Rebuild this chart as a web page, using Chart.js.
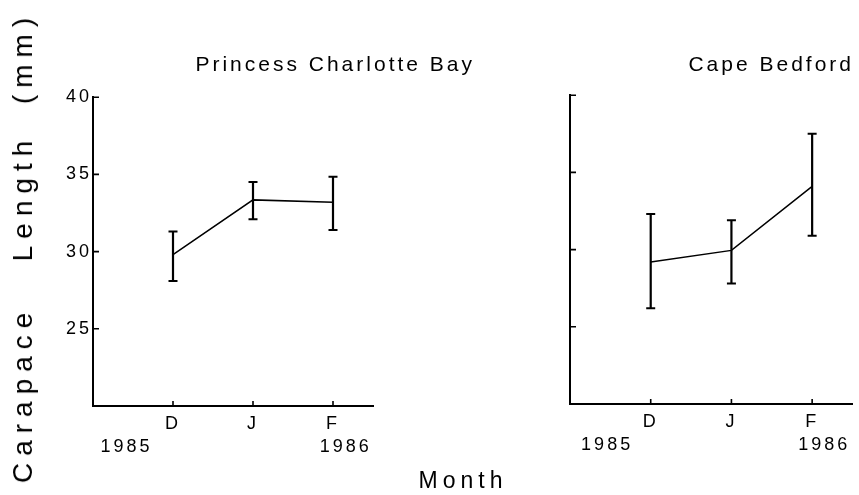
<!DOCTYPE html>
<html><head><meta charset="utf-8">
<script src="https://cdn.jsdelivr.net/npm/chart.js@4.4.1/dist/chart.umd.min.js"></script>
<style>
html,body{margin:0;padding:0;background:#fff;}
body{width:859px;height:495px;position:relative;overflow:hidden;font-family:"Liberation Sans",Arial,sans-serif;color:#000;}
#cl{position:absolute;left:0;top:0;}
#cr{position:absolute;left:480px;top:0;}
#ytitle{position:absolute;left:23px;top:247px;transform:translate(-50%,-50%) rotate(-90deg);white-space:pre;font-size:28px;letter-spacing:7px;line-height:1;}
#xtitle{position:absolute;left:463px;top:480px;transform:translate(-50%,-50%);white-space:pre;font-size:23px;letter-spacing:5px;line-height:1;}
</style></head>
<body>
<canvas id="cl" width="475" height="495"></canvas>
<canvas id="cr" width="379" height="495"></canvas>
<div id="ytitle">Carapace   Length  (mm)</div>
<div id="xtitle">Month</div>
<script>
// ---- data ----
const months = ['D', 'J', 'F'];
const monthPos = [1, 2, 3];
const yearLabels = ['1985', '1986'];
const yTicks = [25, 30, 35, 40];
const pcbMean = [29.8, 33.35, 33.2];
const pcbLow  = [28.1, 32.1, 31.4];
const pcbHigh = [31.3, 34.5, 34.85];
const cbMean  = [29.2, 29.95, 34.1];
const cbLow   = [26.2, 27.8, 30.9];
const cbHigh  = [32.3, 31.9, 37.5];
const titles = ['Princess Charlotte Bay', 'Cape Bedford'];

// ---- layout constants ----
const yearPosLeft = [0.42, 3.16];
const yearPosRight = [0.46, 3.15];
const FONT = '"Liberation Sans", Arial, sans-serif';
const INK = '#000';

function buildDatasets(mean, low, high) {
  const ds = [{
    data: monthPos.map((x, i) => ({x, y: mean[i]})),
    showLine: true, borderColor: INK, borderWidth: 1.5, pointRadius: 0
  }];
  monthPos.forEach((x, i) => {
    ds.push({
      data: [{x, y: low[i]}, {x, y: high[i]}],
      showLine: true, borderColor: INK, borderWidth: 2.2, pointRadius: 0
    });
  });
  ds.push({
    data: monthPos.flatMap((x, i) => [{x, y: low[i]}, {x, y: high[i]}]),
    showLine: false, pointStyle: 'line', pointRadius: 4.5,
    borderColor: INK, backgroundColor: INK, borderWidth: 2
  });
  return ds;
}

const inwardTicks = {
  id: 'inwardTicks',
  afterDatasetsDraw(chart) {
    const {ctx, chartArea: a} = chart;
    const xs = chart.scales.x, ys = chart.scales.y;
    ctx.save();
    ctx.strokeStyle = INK; ctx.lineWidth = 1.6; ctx.beginPath();
    ys.ticks.forEach(t => { const py = ys.getPixelForValue(t.value); ctx.moveTo(a.left, py); ctx.lineTo(a.left + 6, py); });
    xs.ticks.forEach(t => { const px = xs.getPixelForValue(t.value); ctx.moveTo(px, a.bottom); ctx.lineTo(px, a.bottom - 5); });
    ctx.stroke(); ctx.restore();
  }
};
const spacing = { id: 'spacing', beforeDraw(chart) { chart.ctx.letterSpacing = '3px'; } };

function makeOptions(cfg) {
  const tickFont = {family: FONT, size: 18};
  const scales = {
    x: {
      type: 'linear', min: 0, max: 3.5, position: 'bottom',
      grid: {display: false, drawTicks: false},
      border: {display: true, color: INK, width: 2},
      afterBuildTicks: s => { s.ticks = monthPos.map(v => ({value: v})); },
      ticks: {callback: v => months[monthPos.indexOf(v)], font: tickFont, color: INK, padding: 7, autoSkip: false, maxRotation: 0},
      afterFit: s => { s.height = 28; }
    },
    x2: {
      type: 'linear', min: 0, max: 3.5, position: 'bottom', weight: 1,
      grid: {display: false, drawTicks: false},
      border: {display: false},
      afterBuildTicks: s => { s.ticks = cfg.yearPos.map(v => ({value: v})); },
      ticks: {callback: (v, i) => yearLabels[i], font: tickFont, color: INK, padding: 2, autoSkip: false, maxRotation: 0},
      afterFit: s => { s.height = 30; }
    },
    y: {
      type: 'linear', min: 20, max: 40, position: 'left',
      grid: {display: false, drawTicks: false},
      border: {display: true, color: INK, width: 2},
      afterBuildTicks: s => { s.ticks = yTicks.map(v => ({value: v})); },
      ticks: {display: cfg.showY, callback: v => String(v), font: tickFont, color: INK, padding: 1},
      afterFit: s => { s.width = cfg.yWidth; }
    }
  };
  if (cfg.rightSpace) {
    scales.y2 = {
      type: 'linear', position: 'right', display: true,
      grid: {display: false, drawTicks: false}, border: {display: false},
      ticks: {display: false},
      afterFit: s => { s.width = cfg.rightSpace; }
    };
  }
  return {
    animation: false, responsive: false,
    layout: {padding: cfg.padding},
    plugins: {
      legend: {display: false}, tooltip: {enabled: false},
      title: {display: true, text: cfg.title, align: 'end', color: INK,
        font: {family: FONT, size: 21, weight: 'normal'}, padding: cfg.titlePad}
    },
    scales
  };
}

new Chart(document.getElementById('cl'), {
  type: 'scatter',
  data: {datasets: buildDatasets(pcbMean, pcbLow, pcbHigh)},
  options: makeOptions({title: titles[0], yearPos: yearPosLeft, showY: true, yWidth: 93, rightSpace: 102,
    padding: {left: 0, right: 0, top: 0, bottom: 31}, titlePad: {top: 53, bottom: 19}}),
  plugins: [spacing, inwardTicks]
});
new Chart(document.getElementById('cr'), {
  type: 'scatter',
  data: {datasets: buildDatasets(cbMean, cbLow, cbHigh)},
  options: makeOptions({title: titles[1], yearPos: yearPosRight, showY: false, yWidth: 90, rightSpace: 0,
    padding: {left: 0, right: 5, top: 0, bottom: 33}, titlePad: {top: 53, bottom: 17}}),
  plugins: [spacing, inwardTicks]
});
</script>
</body></html>
